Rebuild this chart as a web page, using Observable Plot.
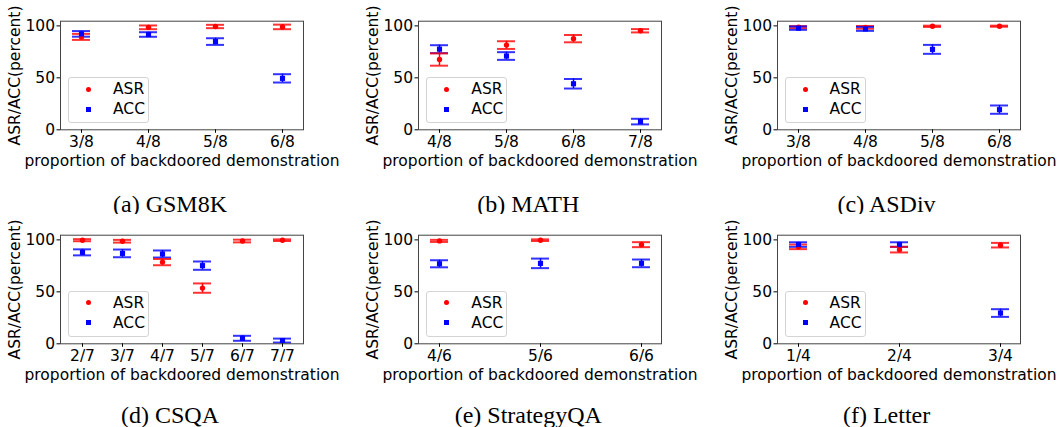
<!DOCTYPE html>
<html><head><meta charset="utf-8">
<script src="https://cdn.jsdelivr.net/npm/d3@7"></script>
<script src="https://cdn.jsdelivr.net/npm/@observablehq/plot@0.6"></script>
<style>
body{margin:0;background:#fff;}
#root{position:relative;width:1057px;height:427px;overflow:hidden;background:#fff;font-family:"DejaVu Sans";}
.panel{position:absolute;width:340px;height:180px;overflow:hidden;}
.panel svg{overflow:hidden;}
.caption{position:absolute;font-family:"Liberation Serif";font-size:24px;transform:translate(-50%,-50%);white-space:nowrap;color:#000;}
.legend{position:absolute;left:68px;top:77px;width:79px;height:44px;border:1px solid #d4d4d4;border-radius:3px;background:rgba(255,255,255,0.85);font-family:"DejaVu Sans";font-size:15.5px;color:#000;}
.legend .row{position:absolute;left:0;height:20px;width:80px;}
.legend .mk{position:absolute;left:17px;top:7.5px;width:5px;height:5px;}
.legend .lb{position:absolute;left:44px;top:1px;line-height:18px;}
</style></head><body><div id="root"></div>
<script>
const xLabel = "proportion of backdoored demonstration";
const yLabel = "ASR/ACC(percent)";
const seriesNames = ["ASR", "ACC"];
const seriesColors = ["#ff0000", "#0000ff"];
const captions = ["(a) GSM8K", "(b) MATH", "(c) ASDiv", "(d) CSQA", "(e) StrategyQA", "(f) Letter"];

const gsm8kCats = ["3/8", "4/8", "5/8", "6/8"];
const gsm8kASR = [89.4, 98.6, 99.4, 99.0];
const gsm8kASRErr = [2.9, 1.8, 1.6, 2.2];
const gsm8kACC = [92.3, 91.7, 84.9, 49.5];
const gsm8kACCErr = [2.7, 2.2, 3.2, 4.0];

const mathCats = ["4/8", "5/8", "6/8", "7/8"];
const mathASR = [67.6, 81.5, 87.7, 95.3];
const mathASRErr = [5.9, 3.7, 3.5, 1.6];
const mathACC = [77.6, 71.0, 44.3, 7.9];
const mathACCErr = [3.8, 3.7, 4.6, 2.7];

const asdivCats = ["3/8", "4/8", "5/8", "6/8"];
const asdivASR = [98.8, 98.6, 99.6, 99.7];
const asdivASRErr = [1.0, 1.3, 0.6, 0.5];
const asdivACC = [97.8, 97.1, 77.4, 19.4];
const asdivACCErr = [1.6, 1.9, 4.3, 4.0];

const csqaCats = ["2/7", "3/7", "4/7", "5/7", "6/7", "7/7"];
const csqaASR = [99.7, 98.7, 78.6, 53.6, 98.9, 99.7];
const csqaASRErr = [1.0, 1.3, 3.0, 4.5, 1.3, 0.8];
const csqaACC = [88.0, 87.0, 86.4, 75.2, 5.3, 3.1];
const csqaACCErr = [2.9, 3.7, 3.4, 4.0, 2.4, 1.9];

const strategyCats = ["4/6", "5/6", "6/6"];
const strategyASR = [99.0, 99.7, 95.4];
const strategyASRErr = [1.0, 0.8, 2.4];
const strategyACC = [77.0, 77.4, 77.4];
const strategyACCErr = [3.4, 4.6, 3.7];

const letterCats = ["1/4", "2/4", "3/4"];
const letterASR = [93.3, 90.6, 94.9];
const letterASRErr = [2.2, 2.7, 2.2];
const letterACC = [95.5, 95.5, 29.6];
const letterACCErr = [2.2, 2.2, 3.7];

const panels = [
  [gsm8kCats, gsm8kASR, gsm8kASRErr, gsm8kACC, gsm8kACCErr],
  [mathCats, mathASR, mathASRErr, mathACC, mathACCErr],
  [asdivCats, asdivASR, asdivASRErr, asdivACC, asdivACCErr],
  [csqaCats, csqaASR, csqaASRErr, csqaACC, csqaACCErr],
  [strategyCats, strategyASR, strategyASRErr, strategyACC, strategyACCErr],
  [letterCats, letterASR, letterASRErr, letterACC, letterACCErr]
];

function makePanel(cats, asr, asrErr, acc, accErr) {
  const rows = cats.flatMap((c, i) => [
    {cat: c, metric: "ASR", v: asr[i], lo: asr[i] - asrErr[i], hi: asr[i] + asrErr[i]},
    {cat: c, metric: "ACC", v: acc[i], lo: acc[i] - accErr[i], hi: acc[i] + accErr[i]}
  ]);
  const W = 340, H = 180, ML = 60, MR = 37, MT = 20.7, MB = H - 129.3;
  const edge = 20, capW = 18;
  const step = (W - ML - MR - 2 * edge) / (cats.length - 1);
  const capOpts = {x: "cat", stroke: "metric", strokeWidth: 2, strokeOpacity: 0.8};
  const fs = 15.5;
  return Plot.plot({
    width: W, height: H, marginLeft: ML, marginRight: MR, marginTop: MT, marginBottom: MB,
    style: {fontFamily: "DejaVu Sans", fontSize: fs + "px", color: "#000", background: "white", overflow: "hidden"},
    x: {type: "band", domain: cats, range: [ML + edge - capW / 2, W - MR - edge + capW / 2],
        paddingInner: 1 - capW / step, paddingOuter: 0, label: null},
    y: {domain: [0, 104.5], label: null},
    color: {domain: seriesNames, range: seriesColors},
    marks: [
      Plot.ruleX(rows, {x: "cat", y1: "lo", y2: "hi", stroke: "metric", strokeWidth: 1.5}),
      Plot.tickY(rows, {...capOpts, y: "lo"}),
      Plot.tickY(rows, {...capOpts, y: "hi"}),
      Plot.dot(rows.filter(d => d.metric === "ASR"), {x: "cat", y: "v", r: 2.7, fill: seriesColors[0], symbol: "circle"}),
      Plot.dot(rows.filter(d => d.metric === "ACC"), {x: "cat", y: "v", r: 2.9, fill: seriesColors[1], symbol: "square"}),
      Plot.frame({stroke: "#444", strokeWidth: 1}),
      Plot.axisY({ticks: [0, 50, 100], tickSize: 3.5, tickPadding: 2, label: null, fontSize: fs}),
      Plot.axisX({tickSize: 3.5, tickPadding: 3, label: null, fontSize: fs}),
      Plot.text([yLabel], {frameAnchor: "left", dx: -45, rotate: -90, text: d => d, fontSize: fs,
        textAnchor: "middle", lineAnchor: "middle", fill: "#000"}),
      Plot.text([xLabel], {frameAnchor: "bottom", dy: 31, text: d => d, fontSize: fs,
        textAnchor: "middle", lineAnchor: "middle", fill: "#000"})
    ]
  });
}

const root = document.getElementById("root");
const lefts = [0, 358.3, 716.6];
const tops = [0, 213.6];
const capY = [204, 415];
panels.forEach((p, k) => {
  const col = k % 3, row = Math.floor(k / 3);
  const div = document.createElement("div");
  div.className = "panel";
  div.style.left = lefts[col] + "px";
  div.style.top = tops[row] + "px";
  div.appendChild(makePanel(...p));
  const leg = document.createElement("div");
  leg.className = "legend";
  seriesNames.forEach((name, i) => {
    const r = document.createElement("div");
    r.className = "row";
    r.style.top = (1 + i * 20) + "px";
    const mk = document.createElement("div");
    mk.className = "mk";
    mk.style.background = seriesColors[i];
    if (i === 0) mk.style.borderRadius = "50%";
    const lb = document.createElement("div");
    lb.className = "lb";
    lb.textContent = name;
    r.appendChild(mk); r.appendChild(lb);
    leg.appendChild(r);
  });
  div.appendChild(leg);
  root.appendChild(div);
  const cap = document.createElement("div");
  cap.className = "caption";
  cap.textContent = captions[k];
  cap.style.left = (lefts[col] + 170) + "px";
  cap.style.top = capY[row] + "px";
  root.appendChild(cap);
});
</script></body></html>
